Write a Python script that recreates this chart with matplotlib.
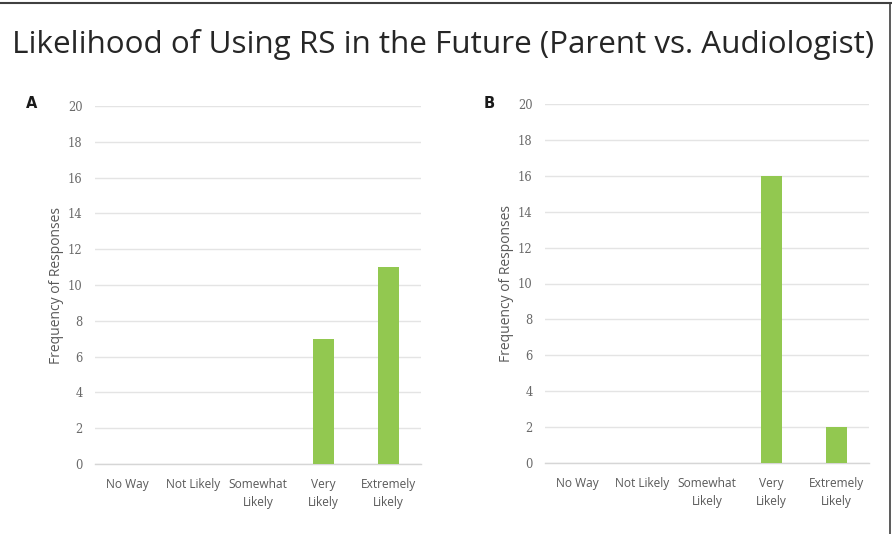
import matplotlib
matplotlib.use("Agg")
import matplotlib.pyplot as plt
from matplotlib.lines import Line2D

categories = ["No Way", "Not Likely", "Somewhat\nLikely", "Very\nLikely", "Extremely\nLikely"]
parent_counts = [0, 0, 0, 7, 11]
audiologist_counts = [0, 0, 0, 16, 2]
y_ticks = [0, 2, 4, 6, 8, 10, 12, 14, 16, 18, 20]
title = "Likelihood of Using RS in the Future (Parent vs. Audiologist)"
ylabel = "Frequency of Responses"
panel_labels = ["A", "B"]

bar_color = "#92C850"
grid_color = "#e4e4e4"
text_gray = "#595959"

fig = plt.figure(figsize=(8.92, 5.34), dpi=100)
fig.patch.set_facecolor("white")

fig.text(0.497, 1 - 45 / 534, title, ha="center", va="center", fontsize=22.6,
         family="Open Sans", color="#262626")

positions = [
    [95 / 892, 1 - 464 / 534, (421 - 95) / 892, (464 - 106) / 534],
    [545 / 892, 1 - 463 / 534, (869 - 545) / 892, (463 - 104) / 534],
]
label_pos = [(32 / 892, 1 - 103 / 534), (489 / 892, 1 - 103 / 534)]

for pos, data, lab, lp in zip(positions, [parent_counts, audiologist_counts], panel_labels, label_pos):
    ax = fig.add_axes(pos)
    x = range(len(categories))
    ax.bar(x, data, width=0.32, color=bar_color, zorder=3)
    ax.set_xlim(-0.5, len(categories) - 0.5)
    ax.set_ylim(0, 20)
    ax.set_yticks(y_ticks)
    ax.set_yticklabels([str(t) for t in y_ticks], fontsize=8.3, color="#6a6a6a",
                       family="DejaVu Serif")
    ax.set_xticks(list(x))
    ax.set_xticklabels(categories, fontsize=8.6, color=text_gray, family="Open Sans",
                       linespacing=1.55)
    ax.tick_params(axis="y", length=0, pad=9)
    ax.tick_params(axis="x", length=0, pad=10)
    ax.yaxis.grid(True, color=grid_color, linewidth=1.0, zorder=0)
    ax.set_axisbelow(True)
    for s in ["top", "right", "left"]:
        ax.spines[s].set_visible(False)
    ax.spines["bottom"].set_color("#d6d6d6")
    ax.spines["bottom"].set_linewidth(1.0)
    ax.set_ylabel(ylabel, fontsize=10, color=text_gray, family="Open Sans", labelpad=3)
    fig.text(lp[0], lp[1], lab, fontsize=10.5, fontweight="bold", family="DejaVu Sans",
             color="#1a1a1a", ha="center", va="center")

fig.add_artist(Line2D([0, 1], [1 - 3 / 534, 1 - 3 / 534], transform=fig.transFigure,
                      color="#404040", linewidth=1.5))
fig.add_artist(Line2D([1 - 2 / 892, 1 - 2 / 892], [0, 1 - 3 / 534], transform=fig.transFigure,
                      color="#404040", linewidth=1.2))

fig.savefig("out.png", dpi=100, facecolor="white")
